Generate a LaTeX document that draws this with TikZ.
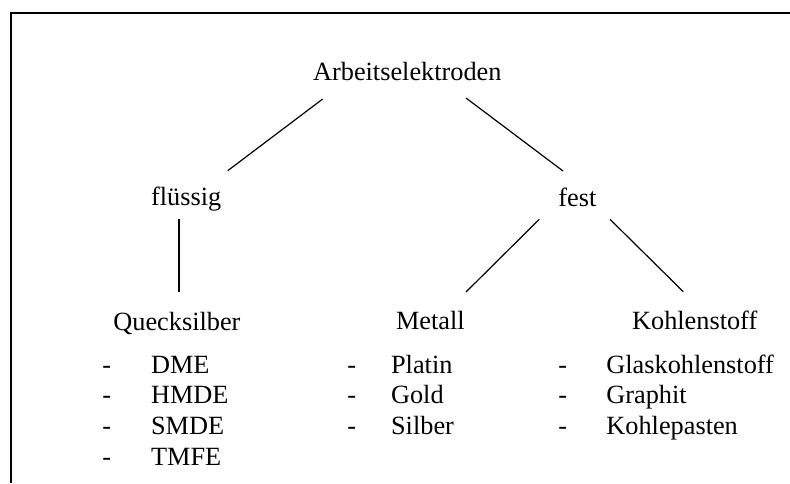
\documentclass[tikz,border=0pt]{standalone}
\usepackage{fontspec}
\setmainfont{Liberation Serif}
\usetikzlibrary{positioning}

\tikzset{
  lbl/.style={anchor=base west, inner sep=0pt, font=\fontsize{13.15}{15.4}\selectfont},
  branch/.style={line width=0.6pt},
  frame/.style={line width=1pt},
}

\begin{document}
\begin{tikzpicture}[x=0.5pt, y=-0.5pt]
\useasboundingbox (0,0) rectangle (790,483);
% frame
\draw[frame] (790,12.7) -- (10.7,12.7) -- (10.7,483);
% tree levels
\node[lbl] (root) at (312.7,80) {Arbeitselektroden};
\node[lbl] (fluessig) at (150.7,205) {flüssig};
\node[lbl] (fest) at (558,206) {fest};
\node[lbl] (hg) at (113,330) {Quecksilber};
\node[lbl] (metall) at (395.7,329.5) {Metall};
\node[lbl] (kohle) at (631.7,329.5) {Kohlenstoff};
% line ends
\coordinate (root-l) at (322.7,99);
\coordinate (root-r) at (466,98);
\coordinate (fluessig-t) at (227.7,170.7);
\coordinate (fluessig-b) at (179,219);
\coordinate (fest-t) at (563,171);
\coordinate (fest-l) at (539.3,219.3);
\coordinate (fest-r) at (610,219.3);
\coordinate (hg-t) at (179,292);
\coordinate (metall-t) at (466,292);
\coordinate (kohle-t) at (683.3,291.7);
\draw[branch] (root-l) -- (fluessig-t);
\draw[branch] (root-r) -- (fest-t);
\draw[branch] (fluessig-b) -- (hg-t);
\draw[branch] (fest-l) -- (metall-t);
\draw[branch] (fest-r) -- (kohle-t);
% item lists
\foreach \el [count=\i] in {DME,HMDE,SMDE,TMFE} {
    \node[lbl] (hg-dash-\i) at (102, 342.3+30.7*\i) {-};
    \node[lbl] (hg-\i) at (150.7, 342.3+30.7*\i) {\el};
}
\foreach \el [count=\i] in {Platin,Gold,Silber} {
    \node[lbl] (metall-dash-\i) at (347, 342.3+30.7*\i) {-};
    \node[lbl] (metall-\i) at (390.7, 342.3+30.7*\i) {\el};
}
\foreach \el [count=\i] in {Glaskohlenstoff,Graphit,Kohlepasten} {
    \node[lbl] (kohle-dash-\i) at (558, 342.3+30.7*\i) {-};
    \node[lbl] (kohle-\i) at (606, 342.3+30.7*\i) {\el};
}
\end{tikzpicture}
\end{document}
